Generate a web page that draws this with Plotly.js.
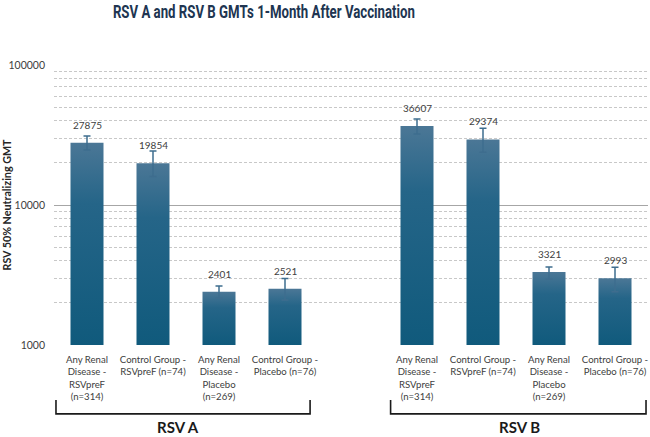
<!DOCTYPE html>
<html>
<head>
<meta charset="utf-8">
<script src="https://cdn.plot.ly/plotly-3.0.1.min.js"></script>
<style>html,body{margin:0;padding:0;background:#fff;}#chart{width:650px;height:437px;}</style>
</head>
<body>
<div id="chart"></div>
<script>
// ---- data ----
var groupLabels = ['RSV A', 'RSV B'];
var categories = [
  'Any Renal<br>Disease -<br>RSVpreF<br>(n=314)',
  'Control Group -<br>RSVpreF (n=74)',
  'Any Renal<br>Disease -<br>Placebo<br>(n=269)',
  'Control Group -<br>Placebo (n=76)'
];
var gmtA = [27875, 19854, 2401, 2521];
var upperA = [31100, 24300, 2640, 2980];
var lowerA = [24700, 16000, 2155, 2100];
var gmtB = [36607, 29374, 3321, 2993];
var upperB = [41100, 35300, 3610, 3590];
var lowerB = [32150, 23800, 2945, 2400];
var yTicks = [1000, 10000, 100000];

// ---- positions (group B after a one-slot gap) ----
var xA = categories.map(function(_, i){ return i; });
var xB = categories.map(function(_, i){ return i + categories.length + 1; });

function errPlus(v, u){ return v.map(function(d,i){ return u[i]-d; }); }
function errMinus(v, l){ return v.map(function(d,i){ return d-l[i]; }); }

var barStyle = {color: '#1f6384', line: {width: 0}};
var errStyle = {color: '#3e6d8e', thickness: 1.5, width: 3.5};

function mkTrace(x, y, up, lo){
  return {
    type: 'bar', x: x, y: y, width: 0.5,
    marker: barStyle,
    error_y: Object.assign({type: 'data', symmetric: false, array: errPlus(y, up), arrayminus: errMinus(y, lo)}, errStyle),
    hoverinfo: 'skip', showlegend: false
  };
}
var traces = [mkTrace(xA, gmtA, upperA, lowerA), mkTrace(xB, gmtB, upperB, lowerB)];

var annotations = [];
function addValueLabels(x, y){
  x.forEach(function(xi, i){
    annotations.push({x: xi, y: Math.log10(y[i]), xref: 'x', yref: 'y', text: String(y[i]),
      showarrow: false, yshift: 18, yanchor: 'middle',
      font: {family: 'Lato, Roboto, sans-serif', size: 10, color: '#404040'}});
  });
}
addValueLabels(xA, gmtA);
addValueLabels(xB, gmtB);

// group brackets
var brackets = [[-0.47, 3.38], [4.6, 8.47]];
var labelX = [1.38, 6.56];
var shapes = [];
brackets.forEach(function(b, k){
  shapes.push({type: 'path', xref: 'x', yref: 'paper',
    path: 'M ' + b[0] + ' -0.196 L ' + b[0] + ' -0.246 L ' + b[1] + ' -0.246 L ' + b[1] + ' -0.196',
    line: {color: '#1a1a1a', width: 1.6}});
  annotations.push({x: labelX[k], y: -0.293, xref: 'x', yref: 'paper', text: groupLabels[k],
    showarrow: false, yanchor: 'middle', xanchor: 'center',
    font: {family: 'Lato, Roboto, sans-serif', size: 15, weight: 'bold', color: '#1a1a1a'}});
});

var layout = {
  width: 650, height: 437,
  margin: {l: 54, r: 2, t: 65, b: 92},
  paper_bgcolor: '#ffffff', plot_bgcolor: '#ffffff',
  title: {text: 'RSV A and RSV B GMTs 1-Month After Vaccination',
    x: 0.406, xanchor: 'center', y: 0.974, yanchor: 'middle', xref: 'container', yref: 'container',
    font: {family: 'Roboto, sans-serif', size: 18, weight: 'bold', color: '#203551'}},
  xaxis: {range: [-0.5, 8.5], tickvals: xA.concat(xB), ticktext: categories.concat(categories),
    showgrid: false, zeroline: false, showline: false, ticks: '', ticklabeloverflow: 'allow',
    ticklabelstandoff: 7,
    tickfont: {family: 'Lato, Roboto, sans-serif', size: 9.6, color: '#404040'}},
  yaxis: {type: 'log', range: [3, 5], tickvals: yTicks, tickformat: 'd',
    showgrid: true, gridcolor: '#a6a6a6', gridwidth: 1, zeroline: false, showline: false, ticks: '',
    ticklabelstandoff: 8,
    minor: {dtick: 'D1', showgrid: true, gridcolor: '#c8c8c8', gridwidth: 1, griddash: '3px,2px'},
    tickfont: {family: 'Lato, Roboto, sans-serif', size: 10.5, color: '#404040'},
    title: {text: 'RSV 50% Neutralizing GMT', standoff: 1,
      font: {family: 'Lato, Roboto, sans-serif', size: 11, weight: 'bold', color: '#262626'}}},
  shapes: shapes,
  annotations: annotations,
  bargap: 0.5
};

function stylize(gd){
  var svg = gd.querySelector('.main-svg');
  var defs = svg.querySelector('defs');
  var ns = 'http://www.w3.org/2000/svg';
  var plotH = gd._fullLayout._size.h;
  gd.querySelectorAll('.barlayer .point path').forEach(function(p, i){
    var bb = p.getBBox();
    var id = 'barGrad' + i;
    var grad = document.createElementNS(ns, 'linearGradient');
    grad.setAttribute('id', id);
    grad.setAttribute('gradientUnits', 'userSpaceOnUse');
    grad.setAttribute('x1', String(bb.x)); grad.setAttribute('x2', String(bb.x));
    grad.setAttribute('y1', String(bb.y));
    grad.setAttribute('y2', String(Math.min(bb.y + bb.height, plotH)));
    [['0%', '#4b7796'], ['30%', '#256588'], ['100%', '#105a7c']].forEach(function(s){
      var st = document.createElementNS(ns, 'stop');
      st.setAttribute('offset', s[0]);
      st.setAttribute('stop-color', s[1]);
      grad.appendChild(st);
    });
    defs.appendChild(grad);
    p.style.setProperty('fill', 'url(#' + id + ')');
  });
  var t = gd.querySelector('.gtitle');
  if (t) { t.setAttribute('textLength', '302'); t.setAttribute('lengthAdjust', 'spacingAndGlyphs'); }
  var yt = gd.querySelector('.ytitle');
  if (yt) { yt.setAttribute('textLength', '131'); yt.setAttribute('lengthAdjust', 'spacingAndGlyphs'); }
}

Plotly.newPlot('chart', traces, layout, {staticPlot: true}).then(stylize);
</script>
</body>
</html>
